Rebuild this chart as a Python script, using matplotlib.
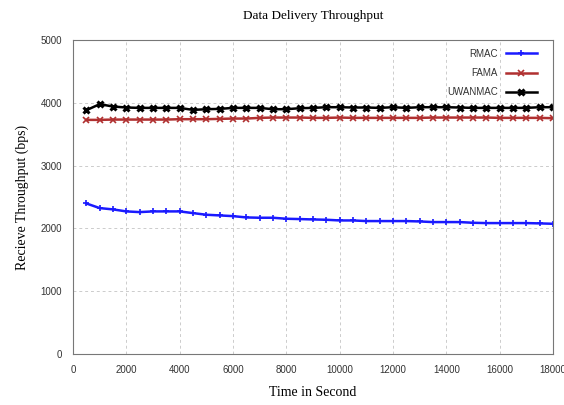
import numpy as np
import matplotlib.pyplot as plt

time_s = np.arange(500, 18001, 500)

rmac = [2398, 2324, 2303, 2271, 2260, 2271, 2271, 2271, 2244, 2218, 2207, 2196,
        2175, 2170, 2170, 2154, 2149, 2143, 2138, 2127, 2127, 2117, 2117, 2117,
        2117, 2111, 2101, 2101, 2101, 2090, 2085, 2085, 2085, 2085, 2080, 2074]
fama = [3729, 3729, 3734, 3734, 3734, 3734, 3734, 3740, 3740, 3740, 3745, 3750,
        3750, 3761, 3766, 3766, 3766, 3761, 3761, 3766, 3761, 3761, 3761, 3761,
        3761, 3761, 3766, 3766, 3766, 3766, 3766, 3761, 3761, 3761, 3761, 3756]
uwanmac = [3883, 3979, 3942, 3926, 3920, 3920, 3920, 3920, 3888, 3899, 3904, 3920,
           3920, 3920, 3899, 3899, 3915, 3920, 3931, 3931, 3926, 3926, 3920, 3931,
           3920, 3931, 3931, 3931, 3926, 3920, 3920, 3920, 3920, 3920, 3931, 3931]

fig = plt.figure(figsize=(5.64, 4.05), dpi=100)
ax = fig.add_axes([0.1294, 0.126, 0.851, 0.775])

ax.plot(time_s, rmac, color='#1a1aff', lw=1.8, marker='+', ms=5, mew=1.2, label='RMAC')
ax.plot(time_s, fama, color='#b03030', lw=1.8, marker='x', ms=4, mew=1.2, label='FAMA')
ax.plot(time_s, uwanmac, color='black', lw=1.8, marker='x', ms=4, mew=2.2, label='UWANMAC')

ax.set_xlim(0, 18000)
ax.set_ylim(0, 5000)
ax.set_xticks(np.arange(0, 18001, 2000))
ax.set_yticks(np.arange(0, 5001, 1000))
ax.grid(True, ls=(0, (3, 3)), color='#cccccc', lw=0.7)
ax.tick_params(labelsize=7, length=0, pad=8, labelcolor='#333333')
for lab in ax.get_xticklabels() + ax.get_yticklabels():
    lab.set_family('Liberation Sans')
for s in ax.spines.values():
    s.set_color('#777777')

ax.set_title('Data Delivery Throughput', family='Liberation Serif', fontsize=9.5, pad=15)
ax.set_xlabel('Time in Second', family='Liberation Serif', fontsize=10, labelpad=8)
ax.set_ylabel('Recieve Throughput (bps)', family='Liberation Serif', fontsize=10, labelpad=8)

leg = ax.legend(loc='upper right', frameon=False, markerfirst=False,
                prop={'family': 'Liberation Sans', 'size': 7}, handlelength=3.2,
                labelspacing=0.95, bbox_to_anchor=(0.985, 1.0))
for t in leg.get_texts():
    t.set_color('#333333')

fig.savefig('out.png', dpi=100)
